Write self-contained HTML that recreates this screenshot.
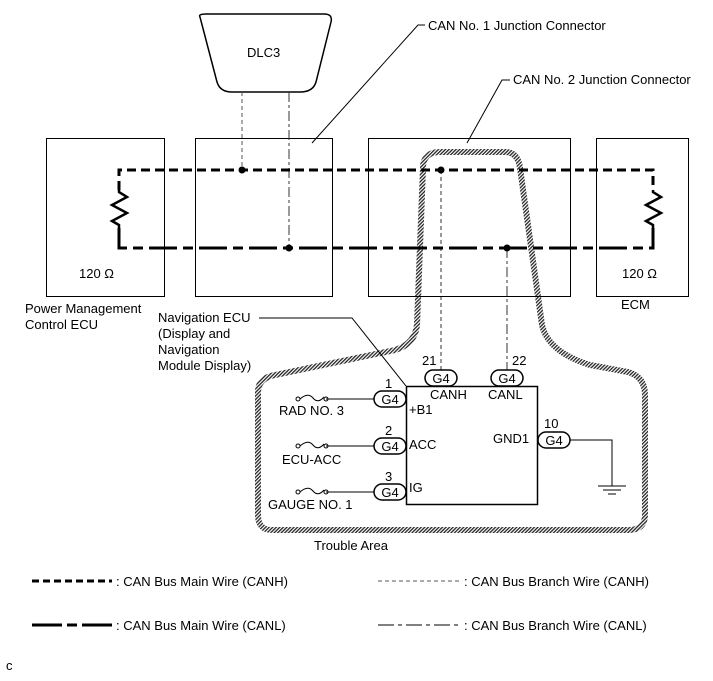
<!DOCTYPE html>
<html><head><meta charset="utf-8"><style>
html,body{margin:0;padding:0;background:#fff;}
svg{display:block;font-family:"Liberation Sans",Arial,sans-serif;}
text{font-size:13px;fill:#000;}
</style></head><body>
<svg width="713" height="681" viewBox="0 0 713 681" xmlns="http://www.w3.org/2000/svg">
<defs>
<pattern id="h" width="2.5" height="2.5" patternUnits="userSpaceOnUse" patternTransform="rotate(45)">
<rect width="2.5" height="2.5" fill="#fff"/><rect width="1.3" height="2.5" fill="#222"/>
</pattern>
</defs>
<path d="M423,168 Q423,152 440,152 L505,152 Q518,152 520,168 L542,325 Q548,352 590,365 L628,372 Q645,377 645,395 L645,515 Q645,530 628,530 L272,530 Q258,530 258,515 L258,392 Q258,378 275,375 L395,350 Q415,344 417,325 Z" fill="none" stroke="url(#h)" stroke-width="6"/>
<g fill="none" stroke="#000" stroke-width="1">
<rect x="46.5" y="138.5" width="118" height="158"/>
<rect x="195.5" y="138.5" width="137" height="158"/>
<rect x="368.5" y="138.5" width="202" height="158"/>
<rect x="596.5" y="138.5" width="92" height="158"/>
<path d="M200,17 Q198,14 206,14 L324,14 Q333,14 331,22 L316,82 Q313,92 300,92 L232,92 Q220,92 217,82 Z" stroke-width="1.5"/>
<path d="M312,143 L418,25 L425,25"/>
<path d="M467,143 L502,80 L510,80"/>
<path d="M259,318 L352,318 L406,386"/>
</g>
<line x1="242" y1="92" x2="242" y2="170" stroke="#555" stroke-dasharray="4,3"/>
<line x1="289" y1="92" x2="289" y2="248" stroke="#333" stroke-dasharray="10,3,3,3"/>
<path d="M119,190 L119,170 L653,170 L653,190" fill="none" stroke="#000" stroke-width="3" stroke-dasharray="9,5"/>
<path d="M119,228 L119,248 L653,248 L653,228" fill="none" stroke="#000" stroke-width="3" stroke-dasharray="28,6,10,6"/>
<polyline points="119,190 119,192 127,197 112,205 127,213 112,221 119,225 119,228" fill="none" stroke="#000" stroke-width="2.5"/>
<polyline points="653,190 653,192 661,197 646,205 661,213 646,221 653,225 653,228" fill="none" stroke="#000" stroke-width="2.5"/>
<circle cx="242" cy="170" r="3.5"/><circle cx="289" cy="248" r="3.5"/>
<circle cx="441" cy="170" r="3.5"/><circle cx="507" cy="248" r="3.5"/>
<line x1="441" y1="170" x2="441" y2="370" stroke="#000" stroke-width="0.8" stroke-dasharray="4,3"/>
<line x1="507" y1="248" x2="507" y2="370" stroke="#000" stroke-width="0.8" stroke-dasharray="10,3,3,3"/>
<rect x="406.5" y="386.5" width="131" height="118" fill="none" stroke="#000" stroke-width="1.5"/>
<g fill="#fff" stroke="#000" stroke-width="1.5">
<rect x="425" y="370" width="32" height="16" rx="8"/>
<rect x="491" y="370" width="32" height="16" rx="8"/>
<rect x="374" y="391" width="32" height="16" rx="8"/>
<rect x="374" y="438" width="32" height="16" rx="8"/>
<rect x="374" y="484" width="32" height="16" rx="8"/>
<rect x="538" y="432" width="32" height="16" rx="8"/>
</g>
<g text-anchor="middle">
<text x="441" y="383">G4</text><text x="507" y="383">G4</text>
<text x="390" y="404">G4</text><text x="390" y="451">G4</text>
<text x="390" y="497">G4</text><text x="554" y="445">G4</text>
</g>
<g fill="none" stroke="#000" stroke-width="1">
<path d="M326,399 L374,399 M326,446 L374,446 M326,492 L374,492"/>
<path d="M570,440 L612,440 L612,486"/>
<path d="M598,486 L626,486 M603,490 L621,490 M608,494 L616,494"/>
<path d="M300,399 Q308,392 313,398 Q318,404 324,397 M300,446 Q308,439 313,445 Q318,451 324,444 M300,492 Q308,485 313,491 Q318,497 324,490"/>
<circle cx="298" cy="399" r="2"/><circle cx="326" cy="399" r="2"/>
<circle cx="298" cy="446" r="2"/><circle cx="326" cy="446" r="2"/>
<circle cx="298" cy="492" r="2"/><circle cx="326" cy="492" r="2"/>
</g>
<text x="247" y="57">DLC3</text>
<text x="428" y="30">CAN No. 1 Junction Connector</text>
<text x="513" y="84">CAN No. 2 Junction Connector</text>
<text x="79" y="278">120 Ω</text>
<text x="622" y="278">120 Ω</text>
<text x="25" y="313">Power Management</text>
<text x="25" y="329">Control ECU</text>
<text x="621" y="309">ECM</text>
<text x="158" y="322">Navigation ECU</text>
<text x="158" y="338">(Display and</text>
<text x="158" y="354">Navigation</text>
<text x="158" y="370">Module Display)</text>
<text x="422" y="365">21</text><text x="512" y="365">22</text>
<text x="430" y="399">CANH</text><text x="488" y="399">CANL</text>
<text x="385" y="388">1</text><text x="409" y="414">+B1</text>
<text x="385" y="435">2</text><text x="409" y="449">ACC</text>
<text x="385" y="481">3</text><text x="409" y="492">IG</text>
<text x="544" y="428">10</text><text x="493" y="443">GND1</text>
<text x="279" y="415">RAD NO. 3</text>
<text x="282" y="464">ECU-ACC</text>
<text x="268" y="509">GAUGE NO. 1</text>
<text x="314" y="550">Trouble Area</text>
<line x1="32" y1="581" x2="112" y2="581" stroke="#000" stroke-width="3" stroke-dasharray="7,4"/>
<text x="116" y="586">: CAN Bus Main Wire (CANH)</text>
<line x1="32" y1="625" x2="112" y2="625" stroke="#000" stroke-width="3" stroke-dasharray="30,5,10,5"/>
<text x="116" y="630">: CAN Bus Main Wire (CANL)</text>
<line x1="378" y1="581" x2="460" y2="581" stroke="#555" stroke-width="1" stroke-dasharray="4,3"/>
<text x="464" y="586">: CAN Bus Branch Wire (CANH)</text>
<line x1="378" y1="625" x2="460" y2="625" stroke="#000" stroke-width="1" stroke-dasharray="16,4,4,4"/>
<text x="464" y="630">: CAN Bus Branch Wire (CANL)</text>
<text x="6" y="670" font-size="11">c</text>
</svg>
</body></html>
